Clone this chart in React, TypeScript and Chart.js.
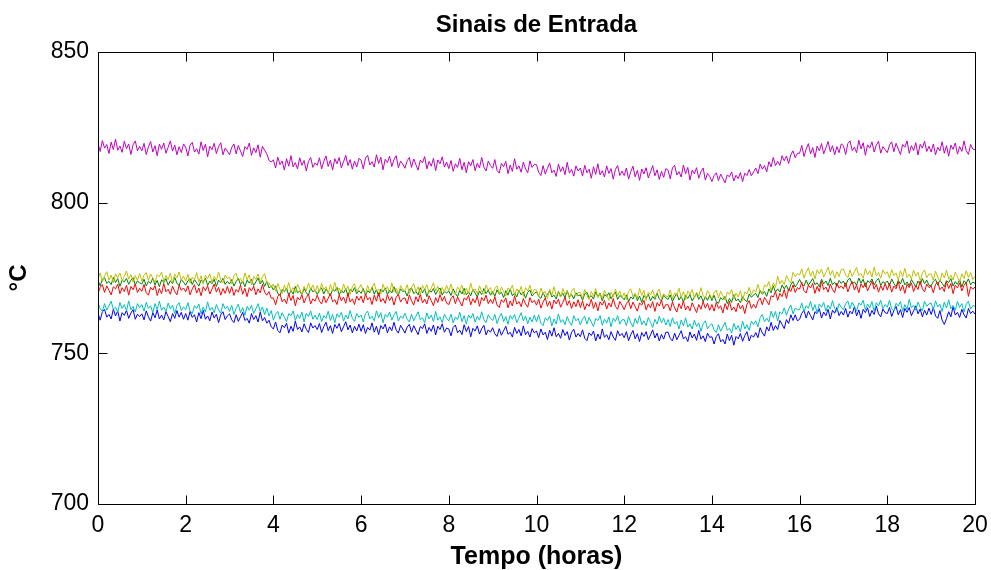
import { useEffect, useRef } from "react";
import { Chart, registerables } from "chart.js";

Chart.register(...registerables);

const TITLE = "Sinais de Entrada";
const X_LABEL = "Tempo (horas)";
const Y_LABEL = "°C";
const SAMPLE_STEP_H = 0.05; // one reading every 0.05 h (3 min), from 0 to 20 h
const xTicks = [0, 2, 4, 6, 8, 10, 12, 14, 16, 18, 20];
const yTicks = [700, 750, 800, 850];

// one row = one hour (20 readings)
const magenta = [
  819.7, 817.0, 820.6, 818.1, 819.3, 816.3, 820.1, 817.6, 821.1, 817.4, 818.8, 816.7, 820.4, 817.9, 819.5, 816.0, 819.2, 820.5, 817.2, 818.7,
  817.2, 819.7, 816.0, 818.5, 820.3, 816.8, 818.9, 815.6, 819.4, 817.7, 819.8, 816.4, 818.4, 820.5, 817.1, 819.1, 815.9, 818.6, 816.6, 819.5,
  818.4, 815.5, 819.1, 820.0, 816.8, 817.9, 816.1, 820.2, 817.3, 819.4, 815.2, 818.7, 817.6, 819.7, 816.3, 818.6, 819.9, 815.9, 818.1, 817.1,
  815.9, 818.4, 819.5, 816.2, 819.0, 817.1, 815.3, 818.6, 817.7, 819.8, 815.7, 818.2, 816.6, 819.2, 815.1, 818.7, 817.4, 816.2, 814.0, 813.5,
  814.2, 811.5, 815.1, 812.6, 813.8, 810.8, 814.6, 812.1, 815.6, 811.9, 813.3, 811.2, 814.9, 812.4, 814.0, 810.5, 813.7, 815.0, 811.7, 813.2,
  812.4, 814.9, 811.2, 813.7, 815.5, 812.0, 814.1, 810.8, 814.6, 812.9, 815.0, 811.6, 813.6, 815.7, 812.3, 814.3, 811.1, 813.8, 811.8, 814.7,
  814.1, 811.2, 814.8, 815.7, 812.5, 813.6, 811.8, 815.9, 813.0, 815.1, 810.9, 814.4, 813.3, 815.4, 812.0, 814.3, 815.6, 811.6, 813.8, 812.8,
  811.4, 813.9, 815.0, 811.7, 814.5, 812.6, 810.8, 814.1, 813.2, 815.3, 811.2, 813.7, 812.1, 814.7, 810.6, 814.2, 812.9, 815.2, 811.8, 813.5,
  811.3, 814.0, 810.4, 812.9, 811.7, 814.7, 810.9, 813.4, 809.9, 813.6, 812.2, 814.3, 810.6, 813.1, 811.5, 815.0, 811.8, 810.5, 813.8, 812.3,
  811.4, 814.3, 810.7, 809.8, 813.0, 811.9, 813.7, 809.6, 812.5, 810.4, 814.6, 811.1, 812.2, 810.1, 813.5, 811.2, 809.9, 813.9, 811.7, 812.7,
  812.6, 810.1, 809.0, 812.3, 809.5, 811.4, 813.2, 809.9, 810.8, 808.7, 812.8, 810.3, 811.9, 809.3, 813.4, 809.8, 811.1, 808.8, 812.2, 810.5,
  811.5, 808.8, 812.4, 809.9, 811.1, 808.1, 811.9, 809.4, 812.9, 809.2, 810.6, 808.5, 812.2, 809.7, 811.3, 807.8, 811.0, 812.3, 809.0, 810.5,
  809.0, 811.5, 807.8, 810.3, 812.1, 808.6, 810.7, 807.4, 811.2, 809.5, 811.6, 808.2, 810.2, 812.3, 808.9, 810.9, 807.7, 810.4, 808.4, 811.3,
  810.8, 807.9, 811.5, 812.4, 809.2, 810.3, 808.5, 812.5, 809.6, 811.7, 807.5, 810.8, 809.6, 811.6, 808.1, 810.3, 811.5, 807.5, 809.7, 808.7,
  807.0, 809.0, 809.9, 807.3, 809.5, 808.0, 806.6, 809.2, 808.6, 810.2, 807.2, 809.1, 808.0, 810.0, 807.0, 809.8, 809.0, 811.0, 808.9, 810.2,
  811.5, 809.6, 812.8, 811.1, 812.3, 810.2, 813.6, 811.9, 815.0, 812.3, 813.7, 812.4, 815.6, 813.9, 815.5, 813.0, 815.9, 817.2, 814.9, 816.4,
  816.4, 819.0, 815.3, 817.8, 819.6, 816.2, 818.3, 815.0, 818.8, 817.2, 819.6, 816.2, 818.2, 820.3, 816.9, 818.9, 815.9, 818.6, 816.6, 819.5,
  818.9, 816.0, 819.6, 820.5, 817.3, 818.4, 816.6, 820.7, 817.8, 819.9, 815.7, 819.2, 818.1, 820.2, 816.8, 819.1, 820.4, 816.4, 818.6, 817.6,
  816.6, 819.1, 820.2, 816.9, 819.7, 817.8, 816.0, 819.3, 818.4, 820.5, 816.4, 818.9, 817.3, 819.9, 815.8, 819.4, 818.1, 820.4, 817.0, 818.7,
  816.8, 819.5, 815.9, 818.4, 817.2, 820.2, 816.4, 818.9, 815.4, 819.1, 817.7, 819.8, 816.1, 818.6, 817.0, 820.5, 817.3, 816.0, 819.3, 817.8,
  817.6,
];

const yellow = [
  774.7, 776.7, 773.7, 775.7, 777.1, 774.3, 776.0, 773.4, 776.4, 775.1, 776.7, 774.0, 775.6, 777.3, 774.6, 776.2, 773.6, 775.8, 774.2, 776.5,
  773.9, 775.9, 776.8, 774.2, 776.4, 774.9, 773.4, 776.1, 775.4, 777.0, 773.8, 775.8, 774.5, 776.6, 773.3, 776.2, 775.1, 777.0, 774.2, 775.6,
  774.0, 776.2, 773.3, 775.3, 774.4, 776.8, 773.7, 775.7, 772.9, 775.9, 774.8, 776.4, 773.5, 775.5, 774.2, 777.0, 774.4, 773.4, 776.0, 774.8,
  775.3, 773.0, 775.8, 776.6, 774.0, 774.9, 773.4, 776.7, 774.4, 776.1, 772.7, 775.5, 774.6, 776.3, 773.6, 775.4, 776.5, 773.3, 773.4, 771.7,
  773.0, 770.6, 773.2, 771.2, 769.8, 772.6, 770.9, 773.5, 770.5, 771.8, 770.2, 772.9, 771.3, 769.6, 772.3, 770.7, 773.3, 771.1, 772.7, 770.4,
  772.5, 770.3, 773.2, 771.2, 772.1, 769.7, 772.8, 770.8, 773.6, 770.6, 771.7, 770.1, 773.0, 771.0, 772.3, 769.5, 772.1, 773.1, 770.5, 771.7,
  772.8, 770.8, 769.9, 772.5, 770.3, 771.8, 773.3, 770.6, 771.3, 769.7, 772.9, 770.9, 772.2, 770.1, 773.4, 770.5, 771.6, 769.7, 772.5, 771.1,
  770.8, 772.8, 769.8, 771.8, 773.2, 770.4, 772.1, 769.5, 772.5, 771.2, 772.8, 770.1, 771.7, 773.4, 770.7, 772.3, 769.7, 771.9, 770.3, 772.6,
  770.7, 773.0, 770.2, 769.4, 772.0, 771.1, 772.6, 769.3, 771.6, 769.9, 773.3, 770.5, 771.4, 769.7, 772.4, 770.6, 769.5, 772.7, 771.0, 771.8,
  769.5, 771.5, 772.4, 769.8, 772.0, 770.5, 769.0, 771.7, 771.0, 772.6, 769.4, 771.4, 770.1, 772.2, 768.9, 771.8, 770.7, 772.6, 769.8, 771.2,
  771.0, 768.8, 771.7, 769.7, 770.6, 768.2, 771.3, 769.3, 772.1, 769.1, 770.2, 768.6, 771.5, 769.5, 770.8, 768.0, 770.6, 771.6, 769.0, 770.2,
  770.2, 768.2, 771.2, 769.2, 767.8, 770.6, 768.9, 771.5, 768.5, 769.8, 768.2, 770.9, 769.3, 767.6, 770.3, 768.7, 771.3, 769.1, 770.7, 768.4,
  770.1, 767.8, 770.6, 771.4, 768.8, 769.7, 768.2, 771.5, 769.2, 770.9, 767.5, 770.3, 769.4, 771.1, 768.4, 770.2, 771.3, 768.1, 769.8, 769.0,
  768.8, 771.0, 768.1, 770.1, 769.2, 771.6, 768.5, 770.5, 767.7, 770.7, 769.6, 771.2, 768.3, 770.3, 769.0, 771.8, 769.2, 768.2, 770.8, 769.6,
  768.1, 770.1, 771.0, 768.4, 770.6, 769.1, 767.6, 770.3, 769.6, 771.2, 768.0, 770.0, 768.7, 770.8, 767.5, 770.4, 769.7, 771.9, 769.4, 771.1,
  770.3, 772.9, 770.3, 769.8, 772.7, 772.1, 773.8, 770.8, 773.4, 771.9, 775.6, 773.1, 774.2, 772.8, 775.8, 774.3, 773.4, 776.9, 775.5, 776.5,
  776.0, 778.0, 775.0, 777.0, 778.4, 775.6, 777.3, 774.7, 777.7, 776.4, 778.0, 775.3, 776.9, 778.6, 775.9, 777.5, 774.9, 777.1, 775.5, 777.8,
  778.0, 776.0, 775.1, 777.7, 775.5, 777.0, 778.5, 775.8, 776.5, 774.9, 778.1, 776.1, 777.4, 775.3, 778.6, 775.7, 776.8, 774.9, 777.7, 776.3,
  777.1, 774.9, 777.8, 775.8, 776.7, 774.3, 777.4, 775.4, 778.2, 775.2, 776.3, 774.7, 777.6, 775.6, 776.9, 774.1, 776.7, 777.7, 775.1, 776.3,
  776.3, 774.3, 777.3, 775.3, 773.9, 776.7, 775.0, 777.6, 774.6, 775.9, 774.3, 777.0, 775.4, 773.7, 776.4, 774.8, 777.4, 775.2, 776.8, 774.5,
  775.5,
];

const green = [
  774.2, 772.4, 774.6, 775.1, 773.2, 773.9, 772.8, 775.2, 773.5, 774.8, 772.2, 774.3, 773.7, 774.9, 772.9, 774.3, 775.1, 772.7, 774.0, 773.4,
  773.0, 774.6, 772.4, 773.9, 773.2, 775.0, 772.7, 774.2, 772.1, 774.4, 773.5, 774.8, 772.6, 774.1, 773.1, 775.2, 773.3, 772.5, 774.5, 773.6,
  772.6, 774.1, 774.8, 772.8, 774.5, 773.4, 772.3, 774.3, 773.7, 775.0, 772.5, 774.0, 773.1, 774.6, 772.2, 774.3, 773.5, 774.9, 772.9, 773.9,
  773.0, 774.5, 772.3, 773.8, 774.9, 772.8, 774.0, 772.1, 774.3, 773.3, 774.6, 772.5, 773.7, 775.0, 773.0, 774.2, 772.2, 773.9, 771.7, 772.4,
  771.0, 772.4, 769.8, 769.3, 771.2, 770.5, 771.6, 769.2, 770.9, 769.6, 772.2, 770.1, 770.7, 769.5, 771.5, 770.1, 769.3, 771.7, 770.4, 771.0,
  769.5, 771.0, 771.7, 769.7, 771.4, 770.3, 769.2, 771.2, 770.6, 771.9, 769.4, 770.9, 770.0, 771.5, 769.1, 771.2, 770.4, 771.8, 769.8, 770.8,
  769.9, 771.5, 769.3, 770.8, 770.1, 771.9, 769.6, 771.1, 769.0, 771.3, 770.4, 771.7, 769.5, 771.0, 770.0, 772.1, 770.2, 769.4, 771.4, 770.5,
  770.8, 769.0, 771.2, 771.7, 769.8, 770.5, 769.4, 771.8, 770.1, 771.4, 768.8, 770.9, 770.3, 771.5, 769.5, 770.9, 771.7, 769.3, 770.6, 770.0,
  770.7, 769.2, 771.4, 769.9, 768.8, 770.9, 769.7, 771.6, 769.4, 770.4, 769.1, 771.2, 770.0, 768.7, 770.7, 769.5, 771.5, 769.8, 771.0, 769.3,
  770.5, 768.9, 771.1, 769.6, 770.3, 768.5, 770.8, 769.3, 771.4, 769.1, 770.0, 768.7, 770.9, 769.4, 770.4, 768.3, 770.2, 771.0, 769.0, 769.9,
  770.4, 768.9, 768.2, 770.2, 768.5, 769.6, 770.7, 768.7, 769.3, 768.0, 770.5, 769.0, 769.9, 768.4, 770.8, 768.7, 769.5, 768.1, 770.1, 769.1,
  769.4, 767.6, 769.8, 770.3, 768.4, 769.1, 768.0, 770.4, 768.7, 770.0, 767.4, 769.5, 768.9, 770.1, 768.1, 769.5, 770.3, 767.9, 769.2, 768.6,
  767.8, 769.4, 767.2, 768.7, 768.0, 769.8, 767.5, 769.0, 766.9, 769.2, 768.3, 769.6, 767.4, 768.9, 767.9, 770.0, 768.1, 767.3, 769.3, 768.4,
  767.9, 769.4, 767.2, 768.7, 769.8, 767.7, 768.9, 767.0, 769.2, 768.2, 769.5, 767.4, 768.6, 769.9, 767.9, 769.1, 767.1, 768.8, 767.6, 769.3,
  767.5, 769.3, 767.1, 766.6, 768.5, 767.8, 768.9, 766.5, 768.2, 766.9, 769.5, 767.4, 768.0, 766.8, 768.8, 767.7, 767.1, 769.7, 768.6, 769.4,
  769.9, 768.5, 770.9, 769.6, 770.5, 768.9, 771.4, 770.1, 772.4, 770.3, 771.4, 770.3, 772.7, 771.4, 772.6, 770.7, 772.8, 773.8, 772.0, 773.1,
  774.5, 773.0, 772.3, 774.3, 772.6, 773.7, 774.8, 772.8, 773.4, 772.1, 774.6, 773.1, 774.0, 772.5, 774.9, 772.8, 773.6, 772.2, 774.2, 773.2,
  774.0, 772.2, 774.4, 774.9, 773.0, 773.7, 772.6, 775.0, 773.3, 774.6, 772.0, 774.1, 773.5, 774.7, 772.7, 774.1, 774.9, 772.5, 773.8, 773.2,
  774.0, 772.5, 774.7, 773.2, 772.1, 774.2, 773.0, 774.9, 772.7, 773.7, 772.4, 774.5, 773.3, 772.0, 774.0, 772.8, 774.8, 773.1, 774.3, 772.6,
  772.4, 773.9, 774.6, 772.6, 774.3, 773.2, 772.1, 774.1, 773.5, 774.8, 772.3, 773.8, 772.9, 774.4, 772.0, 774.1, 773.3, 774.7, 772.7, 773.7,
  773.2,
];

const red = [
  769.9, 771.9, 772.8, 770.2, 772.4, 770.9, 769.4, 772.1, 771.4, 773.0, 769.8, 771.8, 770.5, 772.6, 769.3, 772.2, 771.1, 773.0, 770.2, 771.6,
  770.6, 772.9, 770.1, 769.3, 771.9, 771.0, 772.5, 769.2, 771.5, 769.8, 773.2, 770.4, 771.3, 769.6, 772.3, 770.5, 769.4, 772.6, 770.9, 771.7,
  770.4, 772.4, 769.4, 771.4, 772.8, 770.0, 771.7, 769.1, 772.1, 770.8, 772.4, 769.7, 771.3, 773.0, 770.3, 771.9, 769.3, 771.5, 769.9, 772.2,
  769.9, 772.1, 769.2, 771.2, 770.3, 772.7, 769.6, 771.6, 768.8, 771.8, 770.7, 772.3, 769.4, 771.4, 770.1, 772.9, 770.3, 769.3, 770.5, 768.3,
  768.4, 766.1, 768.9, 769.7, 767.1, 768.0, 766.5, 769.8, 767.5, 769.2, 765.8, 768.6, 767.7, 769.4, 766.7, 768.5, 769.6, 766.4, 768.1, 767.3,
  769.3, 767.3, 766.4, 769.0, 766.8, 768.3, 769.8, 767.1, 767.8, 766.2, 769.4, 767.4, 768.7, 766.6, 769.9, 767.0, 768.1, 766.2, 769.0, 767.6,
  769.0, 766.8, 769.7, 767.7, 768.6, 766.2, 769.3, 767.3, 770.1, 767.1, 768.2, 766.6, 769.5, 767.5, 768.8, 766.0, 768.6, 769.6, 767.0, 768.2,
  768.4, 766.4, 769.4, 767.4, 766.0, 768.8, 767.1, 769.7, 766.7, 768.0, 766.4, 769.1, 767.5, 765.8, 768.5, 766.9, 769.5, 767.3, 768.9, 766.6,
  766.2, 768.2, 769.1, 766.5, 768.7, 767.2, 765.7, 768.4, 767.7, 769.3, 766.1, 768.1, 766.8, 768.9, 765.6, 768.5, 767.4, 769.3, 766.5, 767.9,
  766.5, 768.8, 766.0, 765.2, 767.8, 766.9, 768.4, 765.1, 767.4, 765.7, 769.1, 766.3, 767.2, 765.5, 768.2, 766.4, 765.3, 768.5, 766.8, 767.6,
  766.0, 768.0, 765.0, 767.0, 768.4, 765.6, 767.3, 764.7, 767.7, 766.4, 768.0, 765.3, 766.9, 768.6, 765.9, 767.5, 764.9, 767.1, 765.5, 767.8,
  765.2, 767.4, 764.5, 766.5, 765.6, 768.0, 764.9, 766.9, 764.1, 767.1, 766.0, 767.6, 764.7, 766.7, 765.4, 768.2, 765.6, 764.6, 767.2, 766.0,
  764.5, 766.5, 767.4, 764.8, 767.0, 765.5, 764.0, 766.7, 766.0, 767.6, 764.4, 766.4, 765.1, 767.2, 763.9, 766.8, 765.7, 767.6, 764.8, 766.2,
  766.1, 764.1, 767.1, 765.1, 763.7, 766.5, 764.8, 767.4, 764.4, 765.7, 764.1, 766.8, 765.2, 763.5, 766.2, 764.6, 767.2, 765.0, 766.6, 764.3,
  766.2, 764.0, 766.9, 764.9, 765.8, 763.4, 766.5, 764.5, 767.3, 764.3, 765.4, 763.8, 766.7, 764.7, 766.0, 763.2, 766.3, 767.5, 764.9, 766.3,
  765.0, 767.3, 768.4, 766.1, 768.6, 767.4, 766.1, 769.1, 768.7, 770.5, 767.6, 769.9, 768.8, 771.2, 768.2, 771.4, 770.5, 772.7, 770.2, 771.8,
  771.3, 773.6, 770.8, 770.0, 772.6, 771.7, 773.2, 769.9, 772.2, 770.5, 773.9, 771.1, 772.0, 770.3, 773.0, 771.2, 770.1, 773.3, 771.6, 772.4,
  771.4, 773.4, 770.4, 772.4, 773.8, 771.0, 772.7, 770.1, 773.1, 771.8, 773.4, 770.7, 772.3, 774.0, 771.3, 772.9, 770.3, 772.5, 770.9, 773.2,
  771.0, 773.2, 770.3, 772.3, 771.4, 773.8, 770.7, 772.7, 769.9, 772.9, 771.8, 773.4, 770.5, 772.5, 771.2, 774.0, 771.4, 770.4, 773.0, 771.8,
  772.4, 770.1, 772.9, 773.7, 771.1, 772.0, 770.5, 773.8, 771.5, 773.2, 769.8, 772.6, 771.7, 773.4, 770.7, 772.5, 773.6, 768.9, 772.1, 771.3,
  772.0,
];

const cyan = [
  766.8, 764.8, 763.9, 766.5, 764.3, 765.8, 767.3, 764.6, 765.3, 763.7, 766.9, 764.9, 766.2, 764.1, 767.4, 764.5, 765.6, 763.7, 766.5, 765.1,
  766.2, 764.0, 766.9, 764.9, 765.8, 763.4, 766.5, 764.5, 767.3, 764.3, 765.4, 763.8, 766.7, 764.7, 766.0, 763.2, 765.8, 766.8, 764.2, 765.4,
  764.5, 766.8, 764.0, 763.2, 765.8, 764.9, 766.4, 763.1, 765.4, 763.7, 767.1, 764.3, 765.2, 763.5, 766.2, 764.4, 763.3, 766.5, 764.8, 765.6,
  763.9, 765.9, 762.9, 764.9, 766.3, 763.5, 765.2, 762.6, 765.6, 764.3, 765.9, 763.2, 764.8, 766.5, 763.8, 765.4, 762.8, 765.0, 762.4, 764.2,
  761.0, 763.0, 763.9, 761.3, 763.5, 762.0, 760.5, 763.2, 762.5, 764.1, 760.9, 762.9, 761.6, 763.7, 760.4, 763.3, 762.2, 764.1, 761.3, 762.7,
  761.2, 763.4, 760.5, 762.5, 761.6, 764.0, 760.9, 762.9, 760.1, 763.1, 762.0, 763.6, 760.7, 762.7, 761.4, 764.2, 761.6, 760.6, 763.2, 762.0,
  762.7, 760.4, 763.2, 764.0, 761.4, 762.3, 760.8, 764.1, 761.8, 763.5, 760.1, 762.9, 762.0, 763.7, 761.0, 762.8, 763.9, 760.7, 762.4, 761.6,
  763.3, 761.3, 760.4, 763.0, 760.8, 762.3, 763.8, 761.1, 761.8, 760.2, 763.4, 761.4, 762.7, 760.6, 763.9, 761.0, 762.1, 760.2, 763.0, 761.6,
  760.8, 763.0, 760.1, 762.1, 761.2, 763.6, 760.5, 762.5, 759.7, 762.7, 761.6, 763.2, 760.3, 762.3, 761.0, 763.8, 761.2, 760.2, 762.8, 761.6,
  760.9, 762.9, 759.9, 761.9, 763.3, 760.5, 762.2, 759.6, 762.6, 761.3, 762.9, 760.2, 761.8, 763.5, 760.8, 762.4, 759.8, 762.0, 760.4, 762.7,
  760.5, 762.8, 760.0, 759.2, 761.8, 760.9, 762.4, 759.1, 761.4, 759.7, 763.1, 760.3, 761.2, 759.5, 762.2, 760.4, 759.3, 762.5, 760.8, 761.6,
  759.4, 761.4, 762.3, 759.7, 761.9, 760.4, 758.9, 761.6, 760.9, 762.5, 759.3, 761.3, 760.0, 762.1, 758.8, 761.7, 760.6, 762.5, 759.7, 761.1,
  761.2, 759.2, 762.2, 760.2, 758.8, 761.6, 759.9, 762.5, 759.5, 760.8, 759.2, 761.9, 760.3, 758.6, 761.3, 759.7, 762.3, 760.1, 761.7, 759.4,
  761.2, 758.9, 761.8, 759.7, 760.5, 758.1, 761.1, 759.1, 761.8, 758.7, 759.8, 758.1, 761.0, 758.9, 760.1, 757.3, 759.8, 760.8, 758.1, 759.2,
  759.8, 757.8, 756.9, 759.5, 757.3, 758.8, 760.3, 757.6, 758.3, 756.7, 759.9, 757.9, 759.2, 757.1, 760.7, 758.1, 759.5, 757.6, 760.7, 759.6,
  760.8, 758.8, 761.8, 762.9, 760.5, 761.7, 760.4, 764.0, 761.9, 763.9, 760.7, 763.8, 763.1, 765.1, 762.6, 764.7, 766.0, 763.1, 765.0, 764.5,
  764.5, 766.7, 763.8, 765.8, 764.9, 767.3, 764.2, 766.2, 763.4, 766.4, 765.3, 766.9, 764.0, 766.0, 764.7, 767.5, 764.9, 763.9, 766.5, 765.3,
  764.5, 766.5, 767.4, 764.8, 767.0, 765.5, 764.0, 766.7, 766.0, 767.6, 764.4, 766.4, 765.1, 767.2, 763.9, 766.8, 765.7, 767.6, 764.8, 766.2,
  765.3, 767.6, 764.8, 764.0, 766.6, 765.7, 767.2, 763.9, 766.2, 764.5, 767.9, 765.1, 766.0, 764.3, 767.0, 765.2, 764.1, 767.3, 765.6, 766.4,
  766.7, 764.5, 767.4, 765.4, 766.3, 763.9, 767.0, 765.0, 767.8, 764.8, 765.9, 764.3, 767.2, 765.2, 766.5, 763.7, 766.3, 767.3, 764.7, 765.9,
  765.6,
];

const blue = [
  763.3, 761.0, 763.8, 764.6, 762.0, 762.9, 761.4, 764.7, 762.4, 764.1, 760.7, 763.5, 762.6, 764.3, 761.6, 763.4, 764.5, 761.3, 763.0, 762.2,
  763.1, 761.1, 764.1, 762.1, 760.7, 763.5, 761.8, 764.4, 761.4, 762.7, 761.1, 763.8, 762.2, 760.5, 763.2, 761.6, 764.2, 762.0, 763.6, 761.3,
  763.2, 761.0, 763.9, 761.9, 762.8, 760.4, 763.5, 761.5, 764.3, 761.3, 762.4, 760.8, 763.7, 761.7, 763.0, 760.2, 762.8, 763.8, 761.2, 762.4,
  763.1, 761.1, 760.2, 762.8, 760.6, 762.1, 763.6, 760.9, 761.6, 760.0, 763.2, 761.2, 762.5, 760.4, 763.7, 760.8, 761.9, 760.0, 761.0, 758.8,
  758.1, 760.4, 757.6, 756.8, 759.4, 758.5, 760.0, 756.7, 759.0, 757.3, 760.7, 757.9, 758.8, 757.1, 759.8, 758.0, 756.9, 760.1, 758.4, 759.2,
  757.9, 759.9, 756.9, 758.9, 760.3, 757.5, 759.2, 756.6, 759.6, 758.3, 759.9, 757.2, 758.8, 760.5, 757.8, 759.4, 756.8, 759.0, 757.4, 759.7,
  757.3, 759.5, 756.6, 758.6, 757.7, 760.1, 757.0, 759.0, 756.2, 759.2, 758.1, 759.7, 756.8, 758.8, 757.5, 760.3, 757.7, 756.7, 759.3, 758.1,
  756.7, 758.7, 759.6, 757.0, 759.2, 757.7, 756.2, 758.9, 758.2, 759.8, 756.6, 758.6, 757.3, 759.4, 756.1, 759.0, 757.9, 759.8, 757.0, 758.4,
  758.1, 755.8, 758.6, 759.4, 756.8, 757.7, 756.2, 759.5, 757.2, 758.9, 755.5, 758.3, 757.4, 759.1, 756.4, 758.2, 759.3, 756.1, 757.8, 757.0,
  758.5, 756.5, 755.6, 758.2, 756.0, 757.5, 759.0, 756.3, 757.0, 755.4, 758.6, 756.6, 757.9, 755.8, 759.1, 756.2, 757.3, 755.4, 758.2, 756.8,
  757.4, 755.2, 758.1, 756.1, 757.0, 754.6, 757.7, 755.7, 758.5, 755.5, 756.6, 755.0, 757.9, 755.9, 757.2, 754.4, 757.0, 758.0, 755.4, 756.6,
  755.5, 757.8, 755.0, 754.2, 756.8, 755.9, 757.4, 754.1, 756.4, 754.7, 758.1, 755.3, 756.2, 754.5, 757.2, 755.4, 754.3, 757.5, 755.8, 756.6,
  755.2, 757.2, 754.2, 756.2, 757.6, 754.8, 756.5, 753.9, 756.9, 755.6, 757.2, 754.5, 756.1, 757.8, 755.1, 756.7, 754.1, 756.3, 754.7, 757.0,
  757.0, 755.0, 754.1, 756.7, 754.5, 756.0, 757.5, 754.8, 755.5, 753.9, 757.1, 755.1, 756.4, 754.3, 757.6, 754.7, 755.8, 753.9, 756.7, 755.3,
  755.5, 753.1, 755.6, 756.5, 753.8, 754.6, 753.1, 756.4, 754.2, 756.0, 752.7, 755.6, 754.8, 756.6, 754.0, 755.9, 757.2, 754.1, 756.0, 755.4,
  756.9, 755.2, 758.5, 756.8, 755.7, 758.8, 757.4, 760.3, 757.6, 759.2, 757.9, 760.9, 759.6, 758.2, 761.2, 759.9, 762.8, 760.9, 762.8, 760.8,
  761.3, 763.3, 764.3, 761.7, 764.0, 762.5, 761.1, 763.8, 763.2, 764.8, 761.7, 763.7, 762.5, 764.6, 761.4, 764.3, 763.3, 765.2, 762.5, 763.9,
  762.7, 764.9, 762.0, 764.0, 763.1, 765.5, 762.4, 764.4, 761.6, 764.6, 763.5, 765.1, 762.2, 764.2, 762.9, 765.7, 763.1, 762.1, 764.7, 763.5,
  763.2, 765.2, 762.2, 764.2, 765.6, 762.8, 764.5, 761.9, 764.9, 763.6, 765.2, 762.5, 764.1, 765.8, 763.1, 764.7, 762.1, 764.3, 762.7, 765.0,
  762.9, 765.2, 762.4, 761.6, 764.2, 761.0, 759.6, 761.5, 763.8, 762.1, 765.5, 762.7, 763.6, 761.9, 764.6, 762.8, 761.7, 764.9, 763.2, 764.0,
  763.0,
];

// MATLAB plots later lines on top; Chart.js draws dataset 0 on top, so list top-most first.
const seriesList = [
  { name: "y", values: yellow, color: "#BFBF00" },
  { name: "m", values: magenta, color: "#BF00BF" },
  { name: "c", values: cyan, color: "#00BFBF" },
  { name: "r", values: red, color: "#FF0000" },
  { name: "g", values: green, color: "#008000" },
  { name: "b", values: blue, color: "#0000FF" },
];

const FONT = "'Liberation Sans', Arial, Helvetica, sans-serif";

const boxPlugin = {
  id: "matlabBox",
  afterDraw(chart: any) {
    const { ctx, chartArea: a, scales } = chart;
    const xs = scales.x;
    const ys = scales.y;
    const L = Math.round(a.left) + 0.5;
    const R = Math.round(a.right) + 0.5;
    const T = Math.round(a.top) + 0.5;
    const B = Math.round(a.bottom) + 0.5;
    const len = 9;
    ctx.save();
    ctx.strokeStyle = "#000";
    ctx.lineWidth = 1;
    ctx.beginPath();
    ctx.moveTo(L, T);
    ctx.lineTo(R, T);
    ctx.lineTo(R, B);
    ctx.lineTo(L, B);
    ctx.closePath();
    for (const v of xTicks) {
      const px = Math.round(xs.getPixelForValue(v)) + 0.5;
      ctx.moveTo(px, B);
      ctx.lineTo(px, B - len);
      ctx.moveTo(px, T);
      ctx.lineTo(px, T + len);
    }
    for (const v of yTicks) {
      const py = Math.round(ys.getPixelForValue(v)) + 0.5;
      ctx.moveTo(L, py);
      ctx.lineTo(L + len, py);
      ctx.moveTo(R, py);
      ctx.lineTo(R - len, py);
    }
    ctx.stroke();
    ctx.restore();
  },
};

export default function App() {
  const canvasRef = useRef<HTMLCanvasElement | null>(null);

  useEffect(() => {
    document.body.style.margin = "0";
    const canvas = canvasRef.current;
    if (!canvas) return;
    const datasets = seriesList.map((s) => ({
      label: s.name,
      data: s.values.map((v, i) => ({ x: i * SAMPLE_STEP_H, y: v })),
      borderColor: s.color,
      backgroundColor: s.color,
      borderWidth: 1,
      pointRadius: 0,
      pointHoverRadius: 0,
      tension: 0,
      fill: false,
    }));
    const chart = new Chart(canvas, {
      type: "line",
      data: { datasets },
      plugins: [boxPlugin],
      options: {
        animation: false,
        responsive: false,
        devicePixelRatio: 1,
        parsing: false,
        normalized: true,
        events: [],
        layout: { padding: { left: 0, right: 16, top: 0, bottom: 0 } },
        plugins: {
          legend: { display: false },
          tooltip: { enabled: false },
          title: {
            display: true,
            text: TITLE,
            color: "#000",
            fullSize: false,
            font: { family: FONT, size: 24, weight: "bold", lineHeight: 1 },
            padding: { top: 13, bottom: 15 },
          },
        },
        scales: {
          x: {
            type: "linear",
            min: 0,
            max: 20,
            afterBuildTicks: (scale: any) => {
              scale.ticks = xTicks.map((v) => ({ value: v }));
            },
            afterFit: (scale: any) => {
              scale.height = 66;
              scale.paddingLeft = 0;
              scale.paddingRight = 0;
            },
            ticks: {
              color: "#000",
              font: { family: FONT, size: 23 },
              padding: 8,
              maxRotation: 0,
              autoSkip: false,
            },
            grid: { display: false, drawTicks: false },
            border: { display: false },
            title: {
              display: true,
              text: X_LABEL,
              color: "#000",
              font: { family: FONT, size: 25, weight: "bold", lineHeight: 1 },
              padding: { top: 0, bottom: 0 },
            },
          },
          y: {
            type: "linear",
            min: 700,
            max: 850,
            afterBuildTicks: (scale: any) => {
              scale.ticks = yTicks.map((v) => ({ value: v }));
            },
            afterFit: (scale: any) => {
              scale.width = 98;
              scale.paddingTop = 0;
              scale.paddingBottom = 0;
            },
            ticks: {
              color: "#000",
              font: { family: FONT, size: 23 },
              padding: 9,
              autoSkip: false,
            },
            grid: { display: false, drawTicks: false },
            border: { display: false },
            title: {
              display: true,
              text: Y_LABEL,
              color: "#000",
              font: { family: FONT, size: 24, weight: "bold", lineHeight: 1 },
              padding: { top: 7, bottom: 0 },
            },
          },
        },
      } as any,
    });
    return () => chart.destroy();
  }, []);

  return (
    <div style={{ position: "absolute", left: 0, top: 0, width: 991, height: 570 }}>
      <canvas ref={canvasRef} width={991} height={570} style={{ display: "block", width: 991, height: 570 }} />
    </div>
  );
}
